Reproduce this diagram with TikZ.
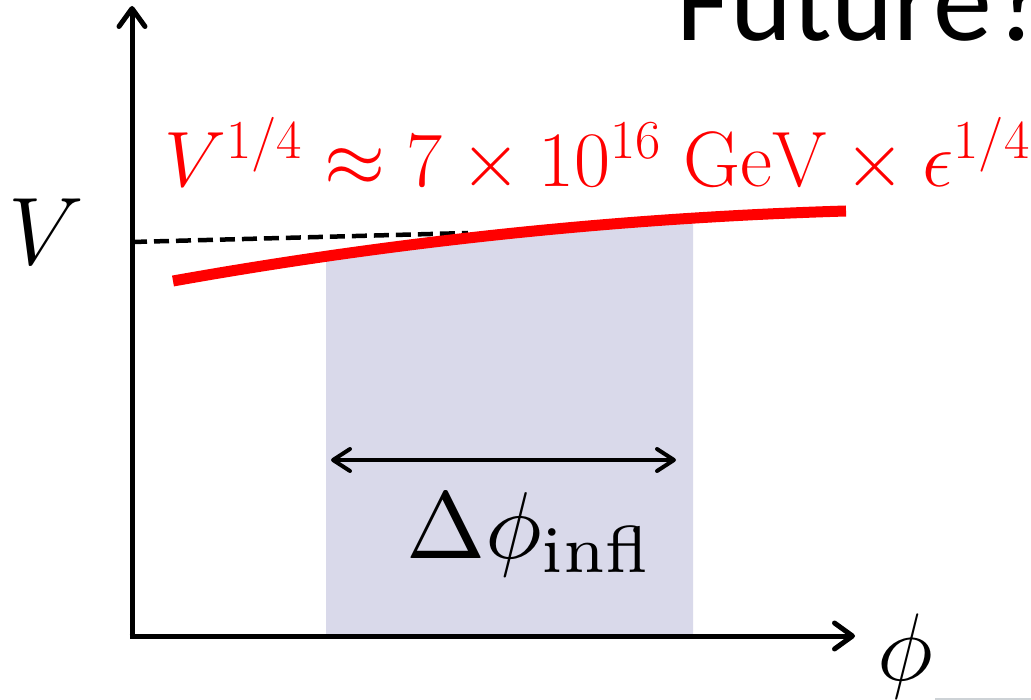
\RequirePackage{fix-cm}
\documentclass[tikz,border=0pt]{standalone}
\usepackage{amsmath}
\usepackage{fontspec}
\newfontfamily\carlito{Carlito}
\usetikzlibrary{arrows.meta}
\definecolor{shadecol}{RGB}{217,217,234}
\definecolor{linegray}{RGB}{205,210,214}
\tikzset{
  axisline/.style={line width=5pt, -{Straight Barb[length=18pt,width=26pt,round]}},
  spanarrow/.style={line width=4pt, {Straight Barb[length=17pt,width=22pt,round]}-{Straight Barb[length=17pt,width=22pt,round]}},
  potcurve/.style={red, line width=11pt},
  flatline/.style={line width=4.5pt, dash pattern=on 15pt off 7pt},
  bigmath/.style={inner sep=0pt, anchor=base west},
}
\begin{document}
\begin{tikzpicture}[x=1pt,y=-1pt]
\useasboundingbox (0,0) rectangle (1031,700);
\clip (0,0) rectangle (1031,700);
% key points
\coordinate (O) at (132,636);
\coordinate (ytop) at (132,6);
\coordinate (xend) at (855,636);
\coordinate (cL) at (173,281);
\coordinate (c1) at (397.3,241);
\coordinate (c2) at (621.7,217.7);
\coordinate (cR) at (846,211);
\coordinate (dL) at (132,242);
\coordinate (dR) at (468,233);
\coordinate (aL) at (331,460);
\coordinate (aR) at (676,460);
% shaded band
\begin{scope}
\clip (326,0) rectangle (693,636);
\fill[shadecol] (cL) .. controls (c1) and (c2) .. (cR) -- (846,636) -- (173,636) -- cycle;
\end{scope}
% axes
\draw[axisline] (O) -- (ytop);
\draw[axisline] ([xshift=-2.5pt]O) -- (xend);
% dashed level
\draw[flatline] (dL) -- (dR);
% potential
\draw[potcurve] (cL) .. controls (c1) and (c2) .. (cR);
% span arrow
\draw[spanarrow] (aL) -- (aR);
% labels
\node[bigmath] (Vlab) at (8,265) {\fontsize{96}{100}\selectfont $V$};
\node[bigmath] (philab) at (877,680) {\fontsize{96}{100}\selectfont $\phi$};
\node[bigmath] (dphi) at (406,558) {\scalebox{9.5}{$\Delta\phi_{\text{infl}}$}};
\node[bigmath, text=red] (formula) at (164,187) {\fontsize{78.5}{90}\selectfont $V^{1/4}\approx 7\times 10^{16}\;\mathrm{GeV}\times\epsilon^{1/4}$};
\node[inner sep=0pt, anchor=base west] (future) at (676,41) {\fontsize{118}{120}\selectfont\carlito Future?};
% small gray line at bottom edge
\draw[linegray, line width=1.5pt] (935,699) -- (1031,699);
\end{tikzpicture}
\end{document}
